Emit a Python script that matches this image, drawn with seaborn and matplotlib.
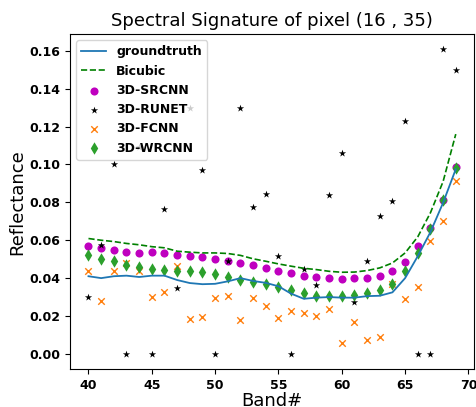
import seaborn as sns
import matplotlib.pyplot as plt
import pandas as pd

# bands shown on the x axis
bands = list(range(40, 70))

groundtruth = [0.0410, 0.0400, 0.0410, 0.0413, 0.0406, 0.0413, 0.0413, 0.0390, 0.0374, 0.0368,
               0.0370, 0.0383, 0.0400, 0.0385, 0.0375, 0.0357, 0.0318, 0.0291, 0.0297, 0.0300,
               0.0297, 0.0297, 0.0305, 0.0307, 0.0325, 0.0400, 0.0516, 0.0643, 0.0798, 0.0975]
bicubic = [0.0609, 0.0600, 0.0593, 0.0583, 0.0576, 0.0566, 0.0560, 0.0542, 0.0537, 0.0533,
           0.0533, 0.0530, 0.0520, 0.0502, 0.0489, 0.0475, 0.0463, 0.0452, 0.0445, 0.0436,
           0.0431, 0.0432, 0.0440, 0.0454, 0.0480, 0.0533, 0.0618, 0.0745, 0.0910, 0.1160]
srcnn = [0.0567, 0.0560, 0.0550, 0.0537, 0.0533, 0.0539, 0.0530, 0.0523, 0.0516, 0.0512,
         0.0500, 0.0490, 0.0480, 0.0470, 0.0454, 0.0438, 0.0426, 0.0411, 0.0404, 0.0399,
         0.0395, 0.0399, 0.0400, 0.0410, 0.0436, 0.0487, 0.0569, 0.0662, 0.0812, 0.0989]
runet = [0.0300, 0.0574, 0.1000, 0.0000, 0.1090, 0.0000, 0.0763, 0.0350, 0.1300, 0.0970,
         0.0000, 0.0493, 0.1298, 0.0777, 0.0842, 0.0516, 0.0000, 0.0450, 0.0366, 0.0839,
         0.1058, 0.0274, 0.0489, 0.0727, 0.0807, 0.1227, 0.0000, 0.0000, 0.1607, 0.1500]
fcnn = [0.0436, 0.0281, 0.0436, 0.0480, 0.0436, 0.0298, 0.0327, 0.0463, 0.0184, 0.0194,
        0.0293, 0.0307, 0.0180, 0.0293, 0.0251, 0.0189, 0.0224, 0.0216, 0.0198, 0.0237,
        0.0057, 0.0166, 0.0076, 0.0088, 0.0371, 0.0290, 0.0353, 0.0595, 0.0700, 0.0913]
wrcnn = [0.0524, 0.0502, 0.0489, 0.0470, 0.0457, 0.0449, 0.0441, 0.0436, 0.0436, 0.0430,
         0.0422, 0.0404, 0.0392, 0.0380, 0.0367, 0.0351, 0.0336, 0.0321, 0.0307, 0.0307,
         0.0307, 0.0313, 0.0320, 0.0336, 0.0371, 0.0436, 0.0533, 0.0657, 0.0812, 0.0980]

df = pd.DataFrame({"band": bands, "groundtruth": groundtruth, "bicubic": bicubic,
                   "srcnn": srcnn, "runet": runet, "fcnn": fcnn, "wrcnn": wrcnn})

fig = plt.figure(figsize=(4.77, 4.07), dpi=100)
ax = fig.add_axes([0.147, 0.093, 0.847, 0.823])

sns.lineplot(x="band", y="groundtruth", data=df, ax=ax, color="C0", linewidth=1.3, label="groundtruth")
sns.lineplot(x="band", y="bicubic", data=df, ax=ax, color="g", linewidth=1.2, linestyle="--", label="Bicubic")
sns.scatterplot(x="band", y="srcnn", data=df, ax=ax, color="m", marker="o", s=34, linewidth=0, label="3D-SRCNN")
sns.scatterplot(x="band", y="runet", data=df, ax=ax, color="k", marker="*", s=30, linewidth=0, label="3D-RUNET")
sns.scatterplot(x="band", y="fcnn", data=df, ax=ax, color="C1", marker="x", s=22, linewidth=1, label="3D-FCNN")
sns.scatterplot(x="band", y="wrcnn", data=df, ax=ax, color="C2", marker="d", s=40, linewidth=0, label="3D-WRCNN")

ax.set_title("Spectral Signature of pixel (16 , 35)", fontsize=13)
ax.set_xlabel("Band#", fontsize=13, labelpad=0)
ax.set_ylabel("Reflectance", fontsize=13, labelpad=2)
ax.set_xticks([40, 45, 50, 55, 60, 65, 70])
for lab in ax.get_xticklabels() + ax.get_yticklabels():
    lab.set_fontweight("bold")
    lab.set_fontsize(9)
ax.legend(loc="upper left", prop={"weight": "bold", "size": 9})

fig.savefig("out.png", dpi=100)
